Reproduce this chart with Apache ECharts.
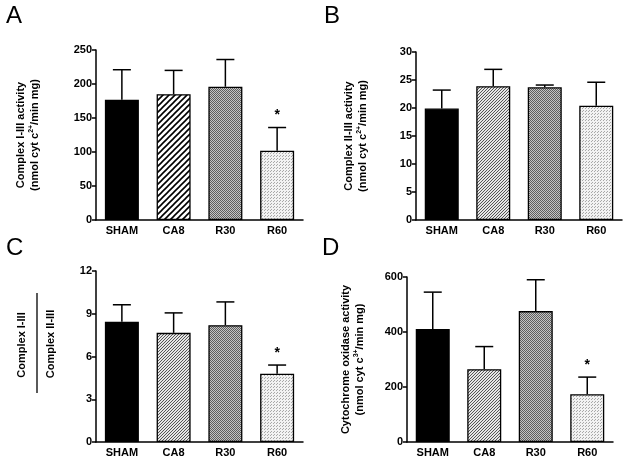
<!DOCTYPE html>
<html>
<head>
<meta charset="utf-8">
<script src="https://cdn.jsdelivr.net/npm/echarts@6/dist/echarts.min.js"></script>
<style>
html,body{margin:0;padding:0;background:#fff;}
#chart{width:629px;height:463px;}
</style>
</head>
<body>
<div id="chart"></div>
<script>
// ---- data ----
const categories = ['SHAM', 'CA8', 'R30', 'R60'];

const meansA = [177, 185, 196, 102];
const errsA  = [44, 35, 40, 34];
const sigA   = [0, 0, 0, 1];

const meansB = [19.9, 23.9, 23.7, 20.4];
const errsB  = [3.3, 3.0, 0.4, 4.2];
const sigB   = [0, 0, 0, 0];

const meansC = [8.43, 7.66, 8.2, 4.79];
const errsC  = [1.2, 1.4, 1.63, 0.61];
const sigC   = [0, 0, 0, 1];

const meansD = [411, 265, 476, 174];
const errsD  = [134, 82, 114, 62];
const sigD   = [0, 0, 0, 1];

const ticksA = {max: 250, interval: 50};
const ticksB = {max: 30, interval: 5};
const ticksC = {max: 12, interval: 3};
const ticksD = {max: 600, interval: 200};

// ---- patterns ----
function tile(w, h, draw) {
  const c = document.createElement('canvas');
  c.width = w; c.height = h;
  const ctx = c.getContext('2d');
  ctx.fillStyle = '#fff';
  ctx.fillRect(0, 0, w, h);
  draw(ctx);
  return {image: c, repeat: 'repeat'};
}
const coarseHatch = tile(6, 6, ctx => {
  ctx.strokeStyle = '#000'; ctx.lineWidth = 1.6;
  ctx.beginPath();
  ctx.moveTo(-1, 7); ctx.lineTo(7, -1);
  ctx.moveTo(-1, 1); ctx.lineTo(1, -1);
  ctx.moveTo(5, 7); ctx.lineTo(7, 5);
  ctx.stroke();
});
const fineHatch = tile(3, 3, ctx => {
  ctx.fillStyle = '#e6e6e6';
  ctx.fillRect(0, 0, 3, 3);
  ctx.fillStyle = '#555';
  ctx.fillRect(2, 0, 1, 1);
  ctx.fillRect(1, 1, 1, 1);
  ctx.fillRect(0, 2, 1, 1);
});
const crossHatch = tile(2, 2, ctx => {
  ctx.fillStyle = '#5e5e5e';
  ctx.fillRect(0, 0, 1, 1);
  ctx.fillRect(1, 1, 1, 1);
  ctx.fillStyle = '#c4c4c4';
  ctx.fillRect(1, 0, 1, 1);
  ctx.fillRect(0, 1, 1, 1);
});
const dots = tile(3, 3, ctx => {
  ctx.fillStyle = '#f2f2f2';
  ctx.fillRect(0, 0, 3, 3);
  ctx.fillStyle = '#a8a8a8';
  ctx.fillRect(0, 0, 1, 1);
  ctx.fillRect(1, 2, 1, 1);
});

const fillsA = ['#000', coarseHatch, crossHatch, dots];
const fillsOther = ['#000', fineHatch, crossHatch, dots];

// ---- layout ----
const grids = [
  {left: 96, top: 50, width: 207, height: 170},
  {left: 416, top: 52, width: 206, height: 168},
  {left: 96, top: 271, width: 207, height: 171},
  {left: 407, top: 277, width: 206, height: 165}
];

const FONT = 'Liberation Sans, Arial, sans-serif';
const axisLineStyle = {color: '#000', width: 1.5};

function yAxisFor(i, t, name, gap) {
  return {
    type: 'value', gridIndex: i, min: 0, max: t.max, interval: t.interval,
    axisLine: {show: true, lineStyle: axisLineStyle},
    axisTick: {show: true, length: 4, lineStyle: axisLineStyle},
    axisLabel: {color: '#000', fontSize: 11, fontWeight: 'bold', fontFamily: FONT, margin: 4},
    splitLine: {show: false},
    name: name || '', nameLocation: 'middle', nameGap: gap || 40,
    nameRotate: 90,
    nameTextStyle: {
      color: '#000', fontFamily: FONT, fontSize: 11, fontWeight: 'bold', lineHeight: 14,
      rich: {
        a: {color: '#000', fontFamily: FONT, fontSize: 11, fontWeight: 'bold', lineHeight: 14},
        s: {color: '#000', fontFamily: FONT, fontSize: 7, fontWeight: 'bold', lineHeight: 14, verticalAlign: 'top'}
      }
    }
  };
}
function xAxisFor(i) {
  return {
    type: 'category', gridIndex: i, data: categories,
    axisLine: {show: true, lineStyle: axisLineStyle},
    axisTick: {show: false},
    axisLabel: {color: '#000', fontSize: 11, fontWeight: 'bold', fontFamily: FONT, margin: 5}
  };
}

function barSeries(i, means, fills) {
  return {
    type: 'bar', xAxisIndex: i, yAxisIndex: i, barWidth: 34, z: 2,
    data: means.map((v, k) => ({value: v, itemStyle: {color: fills[k], borderColor: '#000', borderWidth: 1.3}}))
  };
}
function errSeries(i, means, errs, sig) {
  return {
    type: 'custom', xAxisIndex: i, yAxisIndex: i, z: 1,
    data: means.map((v, k) => [k, v, v + errs[k], sig[k]]),
    renderItem: function (params, api) {
      const x = api.value(0);
      const base = api.coord([x, api.value(1)]);
      const top = api.coord([x, api.value(2)]);
      const cw = 9;
      const children = [
        {type: 'line', shape: {x1: base[0], y1: base[1], x2: top[0], y2: top[1]}, style: {stroke: '#000', lineWidth: 1.5}},
        {type: 'line', shape: {x1: top[0] - cw, y1: top[1], x2: top[0] + cw, y2: top[1]}, style: {stroke: '#000', lineWidth: 1.5}}
      ];
      if (api.value(3)) {
        children.push({type: 'text', x: top[0], y: top[1] - 12, style: {text: '*', fill: '#000', font: 'bold 14px ' + FONT, align: 'center', verticalAlign: 'middle'}});
      }
      return {type: 'group', children: children};
    }
  };
}

const chart = echarts.init(document.getElementById('chart'), null, {renderer: 'canvas'});
const letterStyle = (t) => ({fill: '#000', text: t, font: '24px ' + FONT});
const titleFont = 'bold 11px ' + FONT;

chart.setOption({
  animation: false,
  backgroundColor: '#fff',
  grid: grids,
  xAxis: [xAxisFor(0), xAxisFor(1), xAxisFor(2), xAxisFor(3)],
  yAxis: [
    yAxisFor(0, ticksA, '{a|Complex I-III activity}\n{a|(nmol cyt c}{s|2+}{a|/min mg)}', 54),
    yAxisFor(1, ticksB, '{a|Complex II-III activity}\n{a|(nmol cyt c}{s|2+}{a|/min mg)}', 46),
    yAxisFor(2, ticksC, '', 40),
    yAxisFor(3, ticksD, '{a|Cytochrome oxidase activity}\n{a|(nmol cyt c}{s|3+}{a|/min mg)}', 40)
  ],
  series: [
    errSeries(0, meansA, errsA, sigA), barSeries(0, meansA, fillsA),
    errSeries(1, meansB, errsB, sigB), barSeries(1, meansB, fillsOther),
    errSeries(2, meansC, errsC, sigC), barSeries(2, meansC, fillsOther),
    errSeries(3, meansD, errsD, sigD), barSeries(3, meansD, fillsOther)
  ],
  graphic: [
    {type: 'text', left: 6, top: 4, style: letterStyle('A')},
    {type: 'text', left: 324, top: 4, style: letterStyle('B')},
    {type: 'text', left: 6, top: 236, style: letterStyle('C')},
    {type: 'text', left: 322, top: 236, style: letterStyle('D')},
    {type: 'text', x: 22, y: 345, rotation: Math.PI / 2, style: {text: 'Complex I-III', fill: '#000', font: titleFont, align: 'center', verticalAlign: 'middle'}},
    {type: 'line', shape: {x1: 37, y1: 293, x2: 37, y2: 393}, style: {stroke: '#000', lineWidth: 1.3}},
    {type: 'text', x: 51, y: 344, rotation: Math.PI / 2, style: {text: 'Complex II-III', fill: '#000', font: titleFont, align: 'center', verticalAlign: 'middle'}}
  ]
});
</script>
</body>
</html>
